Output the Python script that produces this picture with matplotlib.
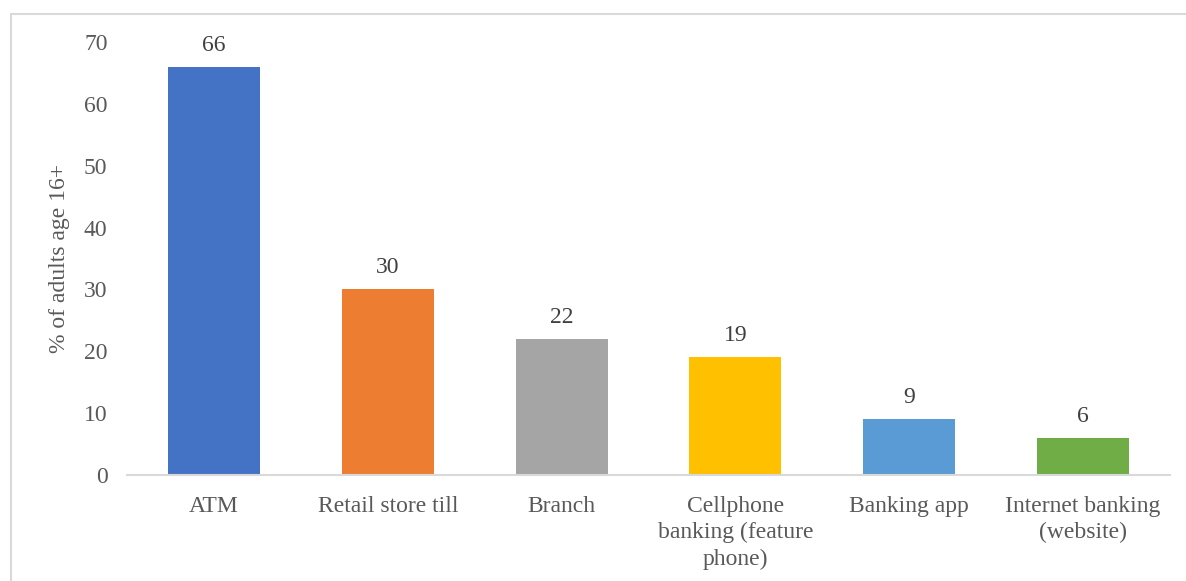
import matplotlib.pyplot as plt
from matplotlib.patches import Rectangle

categories = ["ATM", "Retail store till", "Branch",
              "Cellphone\nbanking (feature\nphone)", "Banking app",
              "Internet banking\n(website)"]
values = [66, 30, 22, 19, 9, 6]
colors = ["#4472C4", "#ED7D31", "#A5A5A5", "#FFC000", "#5B9BD5", "#70AD47"]
yticks = [0, 10, 20, 30, 40, 50, 60, 70]

plt.rcParams["font.family"] = ["Liberation Serif", "DejaVu Serif"]
text_color = "#595959"
fs = 17

W, H = 1186, 581
fig = plt.figure(figsize=(W / 100, H / 100), dpi=100)

# outer chart border
fig.patches.append(Rectangle((11 / W, -0.1), 1.2, 1 - 14 / H + 0.1,
                             transform=fig.transFigure, fill=False,
                             edgecolor="#D9D9D9", linewidth=1.5))

ax = fig.add_axes([127 / W, 106 / H, (1170 - 127) / W, (475 - 42) / H])
x = range(len(categories))
bars = ax.bar(x, values, width=0.53, color=colors)
for xi, v in zip(x, values):
    ax.text(xi, v + 1.8, str(v), ha="center", va="bottom",
            fontsize=fs, color="#404040")

ax.set_xlim(-0.5, len(categories) - 0.5)
ax.set_ylim(0, 70)
ax.set_yticks(yticks)
ax.set_xticks(list(x))
ax.set_xticklabels(categories, fontsize=fs, color=text_color, linespacing=1.32)
ax.tick_params(axis="y", labelsize=fs, labelcolor=text_color, length=0, pad=14)
ax.tick_params(axis="x", length=0, pad=15)
for s in ["top", "right", "left"]:
    ax.spines[s].set_visible(False)
ax.spines["bottom"].set_color("#D9D9D9")
ax.spines["bottom"].set_linewidth(1.5)

ax.set_ylabel("% of adults age 16+", fontsize=fs, color=text_color, labelpad=10)

fig.savefig("out.png", dpi=100)
